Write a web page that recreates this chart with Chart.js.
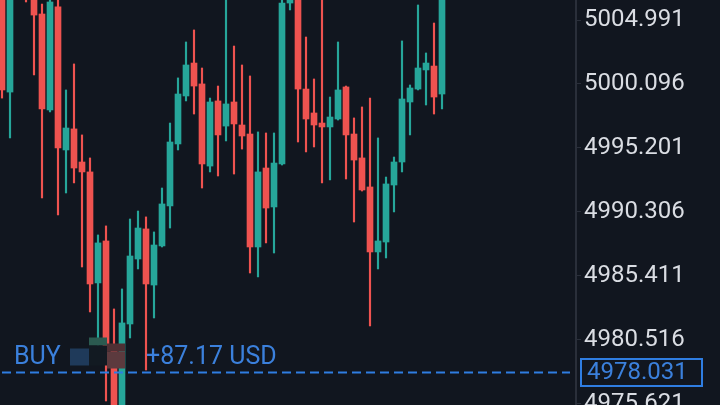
<!DOCTYPE html>
<html>
<head>
<meta charset="utf-8">
<script src="https://cdn.jsdelivr.net/npm/chart.js@4.4.1/dist/chart.umd.min.js"></script>
<style>
  html, body { margin: 0; padding: 0; background: #11161f; }
  #wrap { width: 720px; height: 405px; }
</style>
</head>
<body>
<div id="wrap"><canvas id="chart" width="720" height="405"></canvas></div>
<script>
// candles, oldest first (prices)
const opens = [
  5006.90, 4999.48, 5008.60, 5008.40, 5007.60, 5005.45, 4998.11, 5005.99, 4995.05, 4996.66,
  4994.13, 4993.37, 4984.88, 4988.09, 4980.14, 4974.78, 4981.74, 4986.71, 4989.01, 4984.72,
  4987.71, 4990.77, 4995.51, 4999.18, 5001.70, 5000.10, 4993.82, 4998.80, 4996.88, 4998.72,
  4996.96, 4996.27, 4987.63, 4993.67, 4990.69, 4993.98, 5006.29, 5007.60, 4999.71, 4997.88,
  4997.11, 4996.81, 4997.42, 4999.87, 4996.27, 4994.44, 4992.22, 4987.25, 4988.01, 4992.37,
  4994.13, 4998.72, 4999.71, 5001.17, 5001.47, 4999.33
];
const highs = [
  5007.67, 5008.05, 5009.30, 5009.00, 5008.20, 5006.21, 5006.75, 5006.75, 4999.64, 5001.63,
  4996.20, 4994.44, 4988.55, 4989.24, 4982.89, 4984.42, 4989.77, 4990.38, 4989.93, 4988.78,
  4992.14, 4997.11, 5000.56, 5003.31, 5004.23, 5001.32, 4999.02, 4999.94, 5006.90, 5003.00,
  5001.55, 5000.71, 4996.43, 4996.35, 4996.35, 5006.90, 5008.00, 5008.30, 5003.69, 5000.48,
  5006.90, 4999.10, 5003.31, 4999.94, 4997.50, 4998.34, 4999.02, 4995.97, 4992.98, 4994.51,
  5003.39, 5000.02, 5006.14, 5002.47, 5004.76, 5007.90
];
const lows = [
  4999.02, 4995.97, 5007.20, 5006.37, 5000.79, 4991.38, 4997.96, 4990.08, 4991.76, 4992.53,
  4986.10, 4982.66, 4980.14, 4975.85, 4974.40, 4974.02, 4980.67, 4985.95, 4978.22, 4982.20,
  4987.63, 4989.08, 4995.05, 4998.80, 4997.80, 4992.14, 4993.37, 4993.06, 4995.74, 4993.21,
  4995.12, 4985.64, 4985.34, 4987.94, 4987.17, 4993.90, 5005.76, 4995.66, 4994.90, 4995.28,
  4992.53, 4992.76, 4997.34, 4992.83, 4989.54, 4991.91, 4981.59, 4985.95, 4986.79, 4990.31,
  4993.37, 4996.20, 4999.64, 4998.49, 4997.80, 4998.19
];
const closes = [
  4999.64, 5007.29, 5008.10, 5007.10, 5005.37, 4998.19, 5006.37, 4995.20, 4996.73, 4993.67,
  4993.37, 4984.80, 4987.94, 4979.75, 4975.16, 4981.82, 4986.94, 4989.08, 4984.80, 4987.78,
  4990.92, 4995.66, 4999.33, 5001.55, 4999.94, 4993.98, 4998.72, 4996.20, 4998.57, 4997.04,
  4996.12, 4987.63, 4993.37, 4990.61, 4994.05, 5006.29, 5007.50, 4999.71, 4997.42, 4996.96,
  4996.81, 4997.57, 4999.64, 4996.20, 4994.28, 4991.99, 4987.25, 4988.09, 4992.45, 4994.13,
  4998.95, 4999.79, 5001.32, 5001.70, 4999.10, 5007.40
];

const priceTicks = [5004.991, 5000.096, 4995.201, 4990.306, 4985.411, 4980.516, 4975.621];
const currentPrice = 4978.031;
const sideLabel = 'BUY';
const pnlLabel = '+87.17 USD';

const UP = '#26a69a';
const DOWN = '#ef5350';
const BLUE = '#3b80dc';

const candleColors = opens.map((o, i) => closes[i] >= o ? UP : DOWN);
const wickData = opens.map((o, i) => ({ x: i, y: [lows[i], highs[i]] }));
const bodyData = opens.map((o, i) => ({ x: i, y: [o, closes[i]] }));

const background = {
  id: 'background',
  beforeDraw(chart) {
    const ctx = chart.ctx;
    ctx.save();
    ctx.fillStyle = '#11161f';
    ctx.fillRect(0, 0, chart.width, chart.height);
    ctx.restore();
  }
};

// position line, order label and the price tag on the axis
const positionLine = {
  id: 'positionLine',
  afterDatasetsDraw(chart) {
    const { ctx, chartArea } = chart;
    const y = Math.round(chart.scales.y.getPixelForValue(currentPrice)) + 0.5;
    ctx.save();

    // blurred marker squares next to the label
    ctx.fillStyle = '#1f3a5a';
    ctx.fillRect(70, y - 24, 19, 17);
    ctx.fillStyle = '#2b5a50';
    ctx.fillRect(89, y - 35, 18, 8);
    ctx.fillStyle = '#121a22';
    ctx.fillRect(89, y - 27, 18, 20);
    ctx.fillStyle = '#4e3034';
    ctx.fillRect(107, y - 29, 18, 8);
    ctx.fillStyle = '#5c3a3e';
    ctx.fillRect(107, y - 21, 18, 17);

    ctx.strokeStyle = '#2f7de1';
    ctx.lineWidth = 2;
    ctx.setLineDash([9, 5]);
    ctx.beginPath();
    ctx.moveTo(chartArea.left + 2, y);
    ctx.lineTo(chartArea.right - 6, y);
    ctx.stroke();
    ctx.setLineDash([]);

    ctx.fillStyle = BLUE;
    ctx.font = '25px Roboto';
    ctx.textBaseline = 'middle';
    ctx.textAlign = 'left';
    ctx.fillText(sideLabel, 14, y - 15);
    ctx.fillText(pnlLabel, 146, y - 15);
    ctx.restore();
  },
  afterDraw(chart) {
    const ctx = chart.ctx;
    const y = Math.round(chart.scales.y.getPixelForValue(currentPrice));
    ctx.save();
    ctx.fillStyle = '#11161f';
    ctx.fillRect(581, y - 13, 121, 27);
    ctx.strokeStyle = '#2f7de1';
    ctx.lineWidth = 2;
    ctx.strokeRect(581, y - 13, 121, 27);
    ctx.fillStyle = BLUE;
    ctx.font = '24px Roboto';
    ctx.textBaseline = 'middle';
    ctx.textAlign = 'left';
    ctx.fillText(currentPrice.toFixed(3), 587, y + 1);
    ctx.restore();
  }
};

const chart = new Chart(document.getElementById('chart'), {
  type: 'bar',
  data: {
    datasets: [
      {
        label: 'wick',
        data: wickData,
        backgroundColor: candleColors,
        barThickness: 1.5
      },
      {
        label: 'body',
        data: bodyData,
        backgroundColor: candleColors,
        barThickness: 6
      }
    ]
  },
  options: {
    responsive: false,
    animation: false,
    devicePixelRatio: 1,
    layout: { padding: 0 },
    datasets: { bar: { grouped: false, borderWidth: 0, borderSkipped: false } },
    plugins: {
      legend: { display: false },
      tooltip: { enabled: false }
    },
    scales: {
      x: {
        type: 'linear',
        display: false,
        offset: false,
        min: -0.25,
        max: 71.75
      },
      y: {
        position: 'right',
        min: 4975.543,
        max: 5006.521,
        afterBuildTicks(scale) {
          scale.ticks = priceTicks.map(v => ({ value: v }));
        },
        afterFit(scale) {
          scale.width = 144;
          scale.paddingTop = 0;
          scale.paddingBottom = 0;
        },
        border: { display: true, color: '#2a2f3a', width: 2 },
        grid: {
          drawOnChartArea: false,
          drawTicks: true,
          tickLength: 5,
          tickColor: '#2a2f3a'
        },
        ticks: {
          autoSkip: false,
          padding: 3,
          color: '#dadde3',
          font: { family: 'Roboto', size: 24 },
          callback: v => Number(v).toFixed(3)
        }
      }
    }
  },
  plugins: [background, positionLine]
});
</script>
</body>
</html>
